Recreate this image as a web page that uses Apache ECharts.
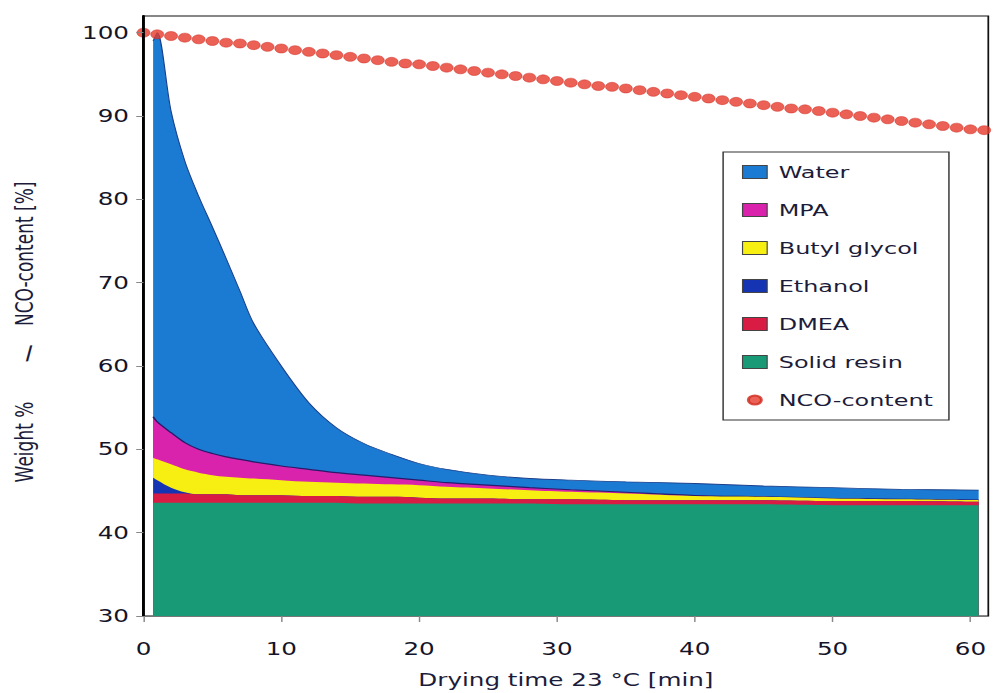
<!DOCTYPE html>
<html>
<head>
<meta charset="utf-8">
<title>Drying of a waterborne coating at 23 °C</title>
<script src="https://cdn.jsdelivr.net/npm/echarts@6/dist/echarts.min.js"></script>
<style>
  html, body { margin: 0; padding: 0; background: #fff; overflow: hidden; }
  #stage { width: 997px; height: 693px; overflow: hidden; }
  /* the chart is laid out narrow and widened, giving the broad lettering and oval dots */
  #chart { width: 688px; height: 693px; transform: scaleX(1.44913); transform-origin: 0 0; }
</style>
</head>
<body>
<div id="stage"><div id="chart"></div></div>
<script>
// Drying time [min] at which each layer thickness was read
const times = [0.7, 1, 2, 3, 4, 5, 6, 7, 8, 10, 12, 14, 16, 18, 20, 22, 25, 28, 31, 35, 40, 45, 50, 55, 60.6];

// Solid resin: absolute level (bottom layer, weight %)
const solidResin = [43.6, 43.6, 43.6, 43.6, 43.6, 43.6, 43.6, 43.6, 43.6, 43.6, 43.6, 43.6,
                    43.5, 43.5, 43.5, 43.5, 43.5, 43.5, 43.4, 43.4, 43.4, 43.4, 43.3, 43.3, 43.3];
// Layer thicknesses on top of the resin, bottom to top (weight %)
const dmea = [1.1, 1.1, 1.1, 1.1, 1.0, 1.0, 1.0, 0.9, 0.9, 0.9, 0.8, 0.8, 0.8, 0.8, 0.7, 0.6,
              0.6, 0.5, 0.6, 0.5, 0.5, 0.5, 0.5, 0.5, 0.4];
const ethanol = [1.9, 1.6, 0.7, 0.15, 0, 0, 0, 0, 0, 0, 0, 0, 0, 0, 0, 0, 0, 0, 0, 0, 0, 0, 0, 0, 0];
const butylGlycol = [2.4, 2.5, 2.8, 2.75, 2.6, 2.3, 2.1, 2.1, 2.0, 1.8, 1.7, 1.6, 1.6, 1.5, 1.5,
                     1.4, 1.2, 1.1, 0.9, 0.8, 0.5, 0.4, 0.3, 0.2, 0.2];
const mpa = [4.9, 4.5, 3.8, 3.2, 2.8, 2.6, 2.4, 2.2, 2.0, 1.7, 1.5, 1.2, 1.0, 0.8, 0.6, 0.5,
             0.4, 0.3, 0.25, 0.15, 0.05, 0, 0, 0, 0];
const water = [45.1, 46.7, 38.6, 33.8, 30.4, 27.2, 23.8, 20.2, 16.6, 12.0, 8.0, 5.4, 3.8, 2.8,
               2.0, 1.6, 1.2, 1.1, 1.15, 1.25, 1.45, 1.3, 1.3, 1.2, 1.2];

// NCO-content [%], one reading per minute
const ncoTimes = [0, 1, 2, 3, 4, 5, 6, 7, 8, 9, 10, 11, 12, 13, 14, 15, 16, 17, 18, 19, 20,
                  21, 22, 23, 24, 25, 26, 27, 28, 29, 30, 31, 32, 33, 34, 35, 36, 37, 38, 39, 40,
                  41, 42, 43, 44, 45, 46, 47, 48, 49, 50, 51, 52, 53, 54, 55, 56, 57, 58, 59, 60, 61];
const ncoContent = [100.0, 99.8, 99.6, 99.4, 99.2, 99.0, 98.8, 98.7, 98.5, 98.3, 98.1,
                    97.9, 97.7, 97.5, 97.3, 97.1, 96.9, 96.7, 96.5, 96.3, 96.2,
                    96.0, 95.8, 95.6, 95.4, 95.2, 95.0, 94.8, 94.6, 94.4, 94.2,
                    94.0, 93.8, 93.6, 93.5, 93.3, 93.1, 92.9, 92.7, 92.5, 92.3,
                    92.1, 91.9, 91.7, 91.5, 91.3, 91.1, 90.9, 90.8, 90.6, 90.4,
                    90.2, 90.0, 89.8, 89.6, 89.4, 89.2, 89.0, 88.8, 88.6, 88.4, 88.3];

// Axis ticks
const xTicks = [0, 10, 20, 30, 40, 50, 60];
const yTicks = [30, 40, 50, 60, 70, 80, 90, 100];

const legendOrder = ['Water', 'MPA', 'Butyl glycol', 'Ethanol', 'DMEA', 'Solid resin', 'NCO-content'];

const textColor = '#1c1c3a';
const font = 'DejaVu Sans';

// Running totals: each layer is drawn as the area under its own top edge,
// upper layers first so that the lower ones paint over them.
function addLayer(base, part) { return base.map((v, i) => +(v + part[i]).toFixed(2)); }
const dmeaTop = addLayer(solidResin, dmea);
const ethanolTop = addLayer(dmeaTop, ethanol);
const butylTop = addLayer(ethanolTop, butylGlycol);
const mpaTop = addLayer(butylTop, mpa);
const waterTop = addLayer(mpaTop, water);

function layer(name, tops, color, z, lineStyle) {
  return {
    name: name,
    type: 'line',
    data: times.map((t, i) => [t, tops[i]]),
    smooth: 0.3,
    symbol: 'none',
    showSymbol: false,
    color: color,
    lineStyle: lineStyle || { width: 0 },
    areaStyle: { color: color, opacity: 1 },
    emphasis: { disabled: true },
    silent: true,
    z: z
  };
}

const chart = echarts.init(document.getElementById('chart'), null, { renderer: 'svg' });

const option = {
  animation: false,
  backgroundColor: '#ffffff',
  grid: {
    left: 98, right: 6, top: 16, bottom: 77,
    show: true, borderColor: '#111', borderWidth: 1.2, backgroundColor: 'transparent'
  },
  xAxis: {
    type: 'value', min: 0, max: 61.3, interval: 10, z: 20,
    name: 'Drying time 23 °C [min]',
    nameLocation: 'middle', nameGap: 55,
    nameTextStyle: { fontFamily: font, fontSize: 17, color: textColor },
    axisLine: { show: true, lineStyle: { color: '#777', width: 1 } },
    axisTick: { show: true, length: 6, lineStyle: { color: '#888' }, customValues: xTicks },
    axisLabel: { customValues: xTicks, margin: 24, fontFamily: font, fontSize: 17, color: '#141428' },
    splitLine: { show: false }
  },
  yAxis: {
    type: 'value', min: 30, max: 102, interval: 10, z: 20,
    name: 'Weight %\u00a0\u00a0\u00a0\u00a0\u00a0\u00a0\u00a0\u00a0\u00a0\u00a0\u00a0\u00a0\u00a0\u00a0NCO-content [%]',
    nameLocation: 'middle', nameGap: 74, nameRotate: 90,
    nameTextStyle: { fontFamily: font, fontSize: 17, color: textColor, padding: [0, 32, 0, 0] },
    axisLine: { show: true, lineStyle: { color: '#000', width: 2 } },
    axisTick: { show: true, length: 5, lineStyle: { color: '#888' }, customValues: yTicks },
    axisLabel: { customValues: yTicks, margin: 10, fontFamily: font, fontSize: 17, color: '#141428' },
    splitLine: { show: false }
  },
  legend: {
    orient: 'vertical', left: 499, top: 152, z: 30,
    padding: [10, 11, 10, 13], itemGap: 18, itemWidth: 17, itemHeight: 13,
    borderColor: '#333', borderWidth: 1, backgroundColor: '#fff',
    selectedMode: false,
    textStyle: { fontFamily: font, fontSize: 16.5, color: textColor, lineHeight: 20, padding: [0, 0, 0, 3] },
    data: legendOrder.map(n => n === 'NCO-content'
      ? { name: n, icon: 'path://M0,0M20,20M10,3A7,7,0,1,1,10,17A7,7,0,1,1,10,3Z' }
      : { name: n, icon: 'rect', itemStyle: { borderColor: '#444', borderWidth: 0.8 } })
  },
  graphic: [{
    type: 'text', x: 20, y: 353, rotation: 0.12, silent: true,
    style: { text: '/', fill: textColor, font: '19px "DejaVu Sans"', align: 'center', verticalAlign: 'middle' }
  }],
  series: [
    layer('Water', waterTop, '#1b7ad2', 2, { width: 0.8, color: '#1b3f8a' }),
    layer('MPA', mpaTop, '#d923ac', 3, { width: 1.2, color: '#2a1a6a' }),
    layer('Butyl glycol', butylTop, '#f8ef12', 4),
    layer('Ethanol', ethanolTop, '#1434b4', 5),
    layer('DMEA', dmeaTop, '#d81c44', 6),
    layer('Solid resin', solidResin, '#199a76', 7),
    {
      name: 'NCO-content',
      type: 'scatter',
      data: ncoTimes.map((t, i) => [t, ncoContent[i]]),
      symbolSize: 9,
      color: '#e6392c',
      itemStyle: { color: '#e6392c', borderColor: '#d02a1e', borderWidth: 0.5 },
      clip: false,
      silent: true,
      z: 10
    }
  ]
};

chart.setOption(option);
</script>
</body>
</html>
